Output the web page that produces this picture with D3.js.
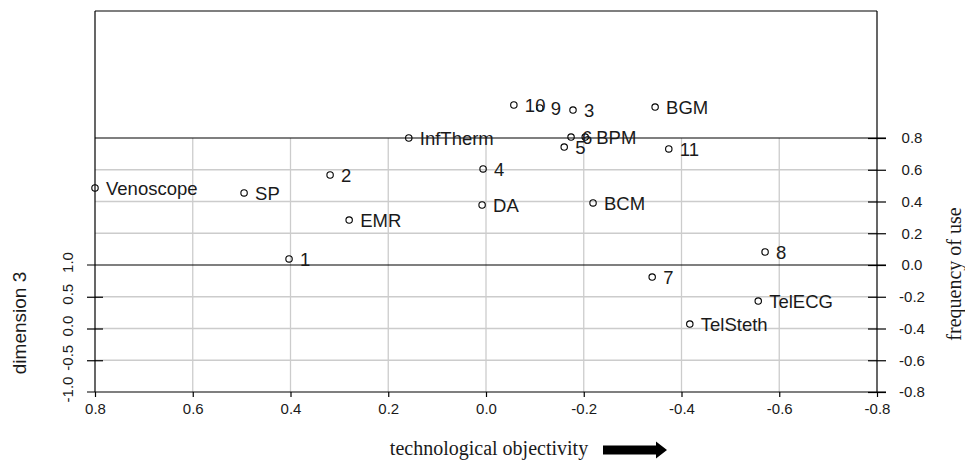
<!DOCTYPE html>
<html><head><meta charset="utf-8">
<script src="https://cdn.jsdelivr.net/npm/d3@7"></script>
<style>body{margin:0;background:#fff}svg{display:block}</style>
</head><body>
<script>
// ---- data ----
const labels   = ["Venoscope","SP","2","InfTherm","EMR","1","4","DA","10","9","3","6","BPM","5","BCM","BGM","11","7","8","TelECG","TelSteth"];
const techObj  = [0.80, 0.495, 0.319, 0.158, 0.280, 0.403, 0.006, 0.008, -0.057, -0.110, -0.178, -0.174, -0.203, -0.160, -0.219, -0.346, -0.374, -0.340, -0.571, -0.557, -0.417];
// vertical position of each point expressed on the "frequency of use" scale (projected)
const freqProj = [0.485, 0.454, 0.567, 0.800, 0.283, 0.038, 0.605, 0.378, 1.008, 0.989, 0.976, 0.806, 0.806, 0.743, 0.391, 0.995, 0.731, -0.076, 0.082, -0.227, -0.372];
const xTicks    = [0.8, 0.6, 0.4, 0.2, 0.0, -0.2, -0.4, -0.6, -0.8];
const freqTicks = [0.8, 0.6, 0.4, 0.2, 0.0, -0.2, -0.4, -0.6, -0.8];
const dimTicks  = [-1.0, -0.5, 0.0, 0.5, 1.0];

const W = 965, H = 461;
const svg = d3.select("body").append("svg").attr("width", W).attr("height", H);

const x = d3.scaleLinear().domain([0.8, -0.8]).range([95, 877]);
const yF = d3.scaleLinear().domain([-0.8, 0.8]).range([392, 138]);
const zD = d3.scaleLinear().domain([-1, 1]).range([392, 265]);
const depth = yF(-0.8) - yF(0.8);
const topY = zD(1) - depth;
const fmt = d => d.toFixed(1);
const gridCol = "#cccccc";
const txtCol = "#1a1a1a";
const sans = "'Liberation Sans', Arial, sans-serif";
const serif = "'Liberation Serif', 'Times New Roman', serif";

// grid
const grid = svg.append("g").attr("stroke", gridCol).attr("stroke-width", 1.3);
grid.selectAll("line.v").data(xTicks.slice(1, -1)).join("line")
  .attr("x1", d => x(d)).attr("x2", d => x(d)).attr("y1", yF(0.8)).attr("y2", yF(-0.8));
grid.selectAll("line.h").data(freqTicks.filter(d => d !== 0.8 && d !== 0 && d !== -0.8)).join("line")
  .attr("x1", x(0.8)).attr("x2", x(-0.8)).attr("y1", d => yF(d)).attr("y2", d => yF(d));

// box
const box = svg.append("g").attr("stroke", "#000").attr("stroke-width", 1.2).attr("fill", "none");
box.append("line").attr("x1", x(0.8)).attr("x2", x(-0.8)).attr("y1", topY).attr("y2", topY);
box.append("line").attr("x1", x(0.8)).attr("x2", x(0.8)).attr("y1", topY).attr("y2", zD(-1));
box.append("line").attr("x1", x(-0.8)).attr("x2", x(-0.8)).attr("y1", topY).attr("y2", zD(-1));
box.append("line").attr("x1", x(0.8) - 8).attr("x2", x(-0.8) + 9).attr("y1", zD(-1)).attr("y2", zD(-1));
box.append("line").attr("x1", x(0.8)).attr("x2", x(-0.8) + 9).attr("y1", yF(0.8)).attr("y2", yF(0.8));
box.append("line").attr("x1", x(0.8) - 8).attr("x2", x(-0.8) + 9).attr("y1", zD(1)).attr("y2", zD(1));

// bottom axis
const gx = svg.append("g").attr("transform", `translate(0,${zD(-1)})`)
  .call(d3.axisBottom(x).tickValues(xTicks).tickSize(5).tickPadding(6).tickFormat(fmt));
gx.select(".domain").remove();
gx.selectAll("line").attr("stroke", "#000").attr("stroke-width", 1.2);
gx.selectAll("text").attr("font-family", sans).attr("font-size", 15).attr("fill", txtCol);

// right axis (frequency of use)
const gr = svg.append("g").attr("transform", `translate(${x(-0.8)},0)`)
  .call(d3.axisRight(yF).tickValues(freqTicks).tickSize(9).tickPadding(26).tickFormat(fmt));
gr.select(".domain").remove();
gr.selectAll("line").attr("x1", -9).attr("stroke", "#000").attr("stroke-width", 1.2);
gr.selectAll("text").attr("font-family", sans).attr("font-size", 15).attr("fill", txtCol)
  .attr("text-anchor", "middle");

// left axis (dimension 3)
const gl = svg.append("g").attr("transform", `translate(${x(0.8)},0)`)
  .call(d3.axisLeft(zD).tickValues(dimTicks).tickSize(8).tickFormat(fmt));
gl.select(".domain").remove();
gl.selectAll("line").attr("x2", -8).attr("x1", 8).attr("stroke", "#000").attr("stroke-width", 1.2);
gl.selectAll("line").filter(d => d === 1 || d === -1).remove();
gl.selectAll("text").attr("font-family", sans).attr("font-size", 15).attr("fill", txtCol)
  .attr("text-anchor", "middle").attr("dy", null).attr("x", null)
  .attr("transform", `translate(-28,-3) rotate(-90)`)
  .attr("dominant-baseline", "central");

// axis titles
svg.append("text").attr("transform", `translate(19,323) rotate(-90)`)
  .attr("text-anchor", "middle").attr("dominant-baseline", "central")
  .attr("font-family", sans).attr("font-size", 19).attr("fill", txtCol).text("dimension 3");
svg.append("text").attr("transform", `translate(954,274) rotate(-90)`)
  .attr("text-anchor", "middle").attr("dominant-baseline", "central")
  .attr("font-family", serif).attr("font-size", 20).attr("fill", txtCol).text("frequency of use");
svg.append("text").attr("x", 489).attr("y", 455).attr("text-anchor", "middle")
  .attr("font-family", serif).attr("font-size", 20).attr("fill", txtCol).text("technological objectivity");
// arrow
svg.append("path").attr("fill", "#000")
  .attr("d", "M603,445.5 L656,445.5 L656,441.5 L667,450 L656,458.5 L656,454.5 L603,454.5 Z");

// points
const pts = labels.map((l, i) => ({l, x: techObj[i], y: freqProj[i]}));
const pg = svg.append("g");
pg.selectAll("circle").data(pts).join("circle")
  .attr("cx", d => x(d.x)).attr("cy", d => yF(d.y)).attr("r", 3.2)
  .attr("fill", "none").attr("stroke", "#000").attr("stroke-width", 1.1);
pg.selectAll("text").data(pts).join("text")
  .attr("x", d => x(d.x) + 11).attr("y", d => yF(d.y)).attr("dy", "0.36em")
  .attr("font-family", sans).attr("font-size", 18.5).attr("fill", txtCol).text(d => d.l);
</script>
</body></html>
